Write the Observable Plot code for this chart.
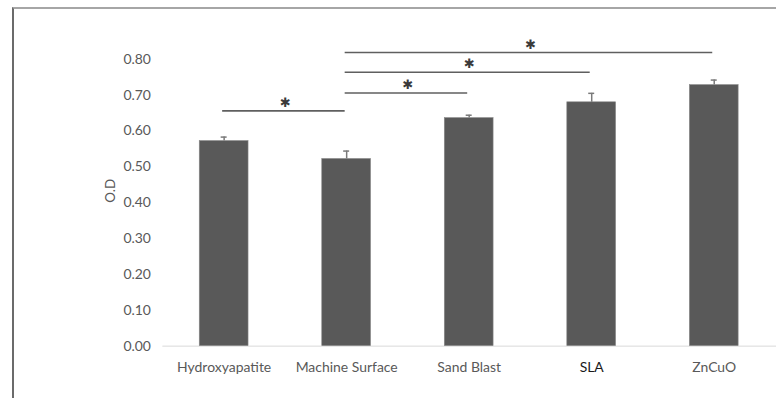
<!DOCTYPE html>
<html>
<head>
<meta charset="utf-8">
<script src="https://cdn.jsdelivr.net/npm/d3@7"></script>
<script src="https://cdn.jsdelivr.net/npm/@observablehq/plot@0.6"></script>
<style>
  html, body { margin: 0; padding: 0; background: #fff; }
  #wrap { position: relative; width: 776px; height: 398px; overflow: hidden; }
  #frame { position: absolute; left: 12px; top: 7px; right: -10px; bottom: -10px;
           border-top: 2px solid #a6a6a6; border-left: 2px solid #6b6b6b; }
  #chart { position: absolute; left: 0; top: 0; }
</style>
</head>
<body>
<div id="wrap"><div id="frame"></div><div id="chart"></div></div>
<script>
const categories = ["Hydroxyapatite", "Machine Surface", "Sand Blast", "SLA", "ZnCuO"];
const values = [0.572, 0.522, 0.636, 0.680, 0.728];
const errors = [0.011, 0.022, 0.008, 0.025, 0.014];
const yTicks = [0, 0.1, 0.2, 0.3, 0.4, 0.5, 0.6, 0.7, 0.8];
const sigFrom = ["Hydroxyapatite", "Machine Surface", "Machine Surface", "Machine Surface"];
const sigTo = ["Machine Surface", "Sand Blast", "SLA", "ZnCuO"];
const sigLevel = [0.656, 0.706, 0.764, 0.819];
const sigMark = "\u2731";

const data = categories.map((c, i) => ({cat: c, value: values[i], err: errors[i]}));
const sig = sigFrom.map((f, i) => ({from: f, to: sigTo[i], level: sigLevel[i]}));

const W = 779, H = 398, mL = 163, mR = 0, mT = 59, mB = 51;
const step = (W - mL - mR) / categories.length;
const font = "Lato, 'Open Sans', sans-serif";

const plot = Plot.plot({
  width: W, height: H,
  marginLeft: mL, marginRight: mR, marginTop: mT, marginBottom: mB,
  style: {fontFamily: font, background: "transparent", overflow: "visible"},
  x: {domain: categories, paddingInner: 0.6, paddingOuter: 0.3, axis: null},
  y: {domain: [0, 0.8], ticks: yTicks, tickFormat: d3.format(".2f"), label: null},
  marks: [
    Plot.axisY({ticks: yTicks, tickFormat: d3.format(".2f"), tickSize: 0, tickPadding: 12,
                fontSize: 14, fill: "#595959", label: null}),
    Plot.text(["O.D"], {frameAnchor: "left", dx: -52, y: 0.4, text: d => d, rotate: -90,
                fontSize: 13.5, fill: "#595959"}),
    Plot.ruleY([0], {stroke: "#d9d9d9", strokeWidth: 1}),
    Plot.barY(data, {x: "cat", y: "value", fill: "#595959", stroke: "#8a8a8a", strokeWidth: 0.6}),
    Plot.ruleX(data, {x: "cat", y1: "value", y2: d => d.value + d.err, stroke: "#7a7a7a", strokeWidth: 1.5}),
    Plot.tickY(data, {x: "cat", y: d => d.value + d.err, stroke: "#7a7a7a", strokeWidth: 1.5,
                insetLeft: 21.5, insetRight: 21.5}),
    Plot.text(categories, {x: d => d, y: 0, dy: 21, text: d => d,
                fontSize: 14, fill: d => d === "SLA" ? "#1a1a1a" : "#595959"}),
    Plot.link(sig, {x1: "from", x2: "to", y1: "level", y2: "level", dx: -2,
                stroke: "#5f5f5f", strokeWidth: 1.6}),
    ...sig.map(s => Plot.text([s], {
      x: "from", y: "level", text: () => sigMark,
      dx: (categories.indexOf(s.to) - categories.indexOf(s.from)) * step / 2,
      dy: -8, lineAnchor: "middle", fontSize: 13, fill: "#3a3a3a",
      fontFamily: "'DejaVu Sans', sans-serif"
    }))
  ]
});
document.getElementById("chart").appendChild(plot);
</script>
</body>
</html>
